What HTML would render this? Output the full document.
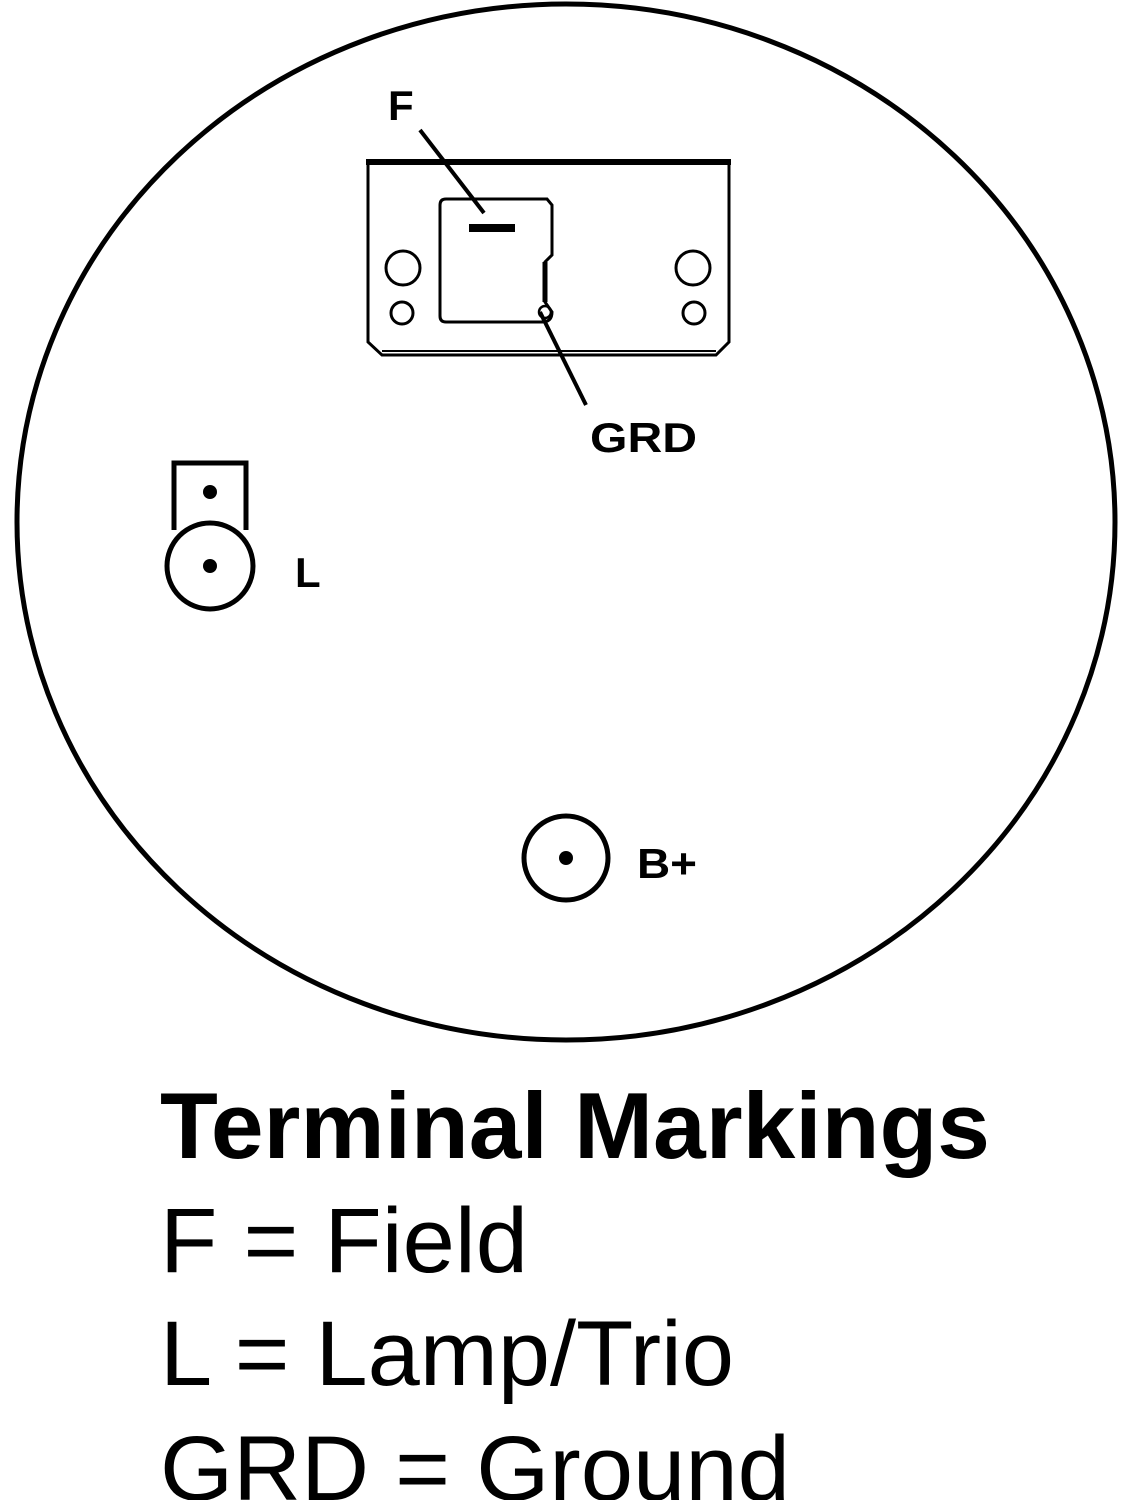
<!DOCTYPE html>
<html><head><style>html,body{margin:0;padding:0;background:#fff;}svg{display:block}</style></head>
<body>
<svg width="1134" height="1500" viewBox="0 0 1134 1500" xmlns="http://www.w3.org/2000/svg">
<rect width="1134" height="1500" fill="#fff"/>
<ellipse cx="566" cy="522" rx="549" ry="518" fill="none" stroke="#000" stroke-width="5"/>
<!-- bracket -->
<path d="M368 161 L729 161 L729 342 L716 355 L382 355 L368 342 Z" fill="none" stroke="#000" stroke-width="3"/>
<line x1="366" y1="162" x2="731" y2="162" stroke="#000" stroke-width="6"/>
<line x1="382" y1="351" x2="716" y2="351" stroke="#000" stroke-width="2"/>
<path d="M446 199 L547 199 L552 205 L552 255 L545 262 L545 302 L552 312 Q552 322 542 322 L446 322 Q440 322 440 316 L440 205 Q440 199 446 199 Z" fill="none" stroke="#000" stroke-width="3"/>
<line x1="545" y1="262" x2="545" y2="302" stroke="#000" stroke-width="5"/>
<circle cx="545" cy="312" r="6" fill="none" stroke="#000" stroke-width="2.5"/>
<rect x="469" y="224" width="46" height="8" fill="#000"/>
<circle cx="403" cy="268" r="17" fill="none" stroke="#000" stroke-width="3"/>
<circle cx="402" cy="313" r="11" fill="none" stroke="#000" stroke-width="3"/>
<circle cx="693" cy="268" r="17" fill="none" stroke="#000" stroke-width="3"/>
<circle cx="694" cy="313" r="11" fill="none" stroke="#000" stroke-width="3"/>
<line x1="420" y1="130" x2="484" y2="213" stroke="#000" stroke-width="4"/>
<line x1="540" y1="312" x2="586" y2="405" stroke="#000" stroke-width="4"/>
<g font-family="Liberation Sans, sans-serif" font-weight="bold" fill="#000">
<text x="388" y="120" font-size="42">F</text>
<text x="590" y="452" font-size="42" textLength="107" lengthAdjust="spacingAndGlyphs">GRD</text>
<text x="295" y="587" font-size="42">L</text>
<text x="637" y="878" font-size="42" textLength="60" lengthAdjust="spacingAndGlyphs">B+</text>
</g>
<!-- L terminal -->
<path d="M174 530 L174 463 L246 463 L246 530" fill="none" stroke="#000" stroke-width="5"/>
<circle cx="210" cy="492" r="7" fill="#000"/>
<circle cx="210" cy="566" r="43" fill="#fff" stroke="#000" stroke-width="5"/>
<circle cx="210" cy="566" r="7" fill="#000"/>
<!-- B+ -->
<circle cx="566" cy="858" r="42" fill="none" stroke="#000" stroke-width="5"/>
<circle cx="566" cy="858" r="7" fill="#000"/>
<g font-family="Liberation Sans, sans-serif" fill="#000">
<text x="160" y="1158" font-size="94" font-weight="bold" textLength="830" lengthAdjust="spacingAndGlyphs">Terminal Markings</text>
<text x="160" y="1272" font-size="92" textLength="368" lengthAdjust="spacingAndGlyphs">F = Field</text>
<text x="160" y="1385" font-size="92" textLength="574" lengthAdjust="spacingAndGlyphs">L = Lamp/Trio</text>
<text x="160" y="1500" font-size="92" textLength="630" lengthAdjust="spacingAndGlyphs">GRD = Ground</text>
</g>
</svg>
</body></html>
